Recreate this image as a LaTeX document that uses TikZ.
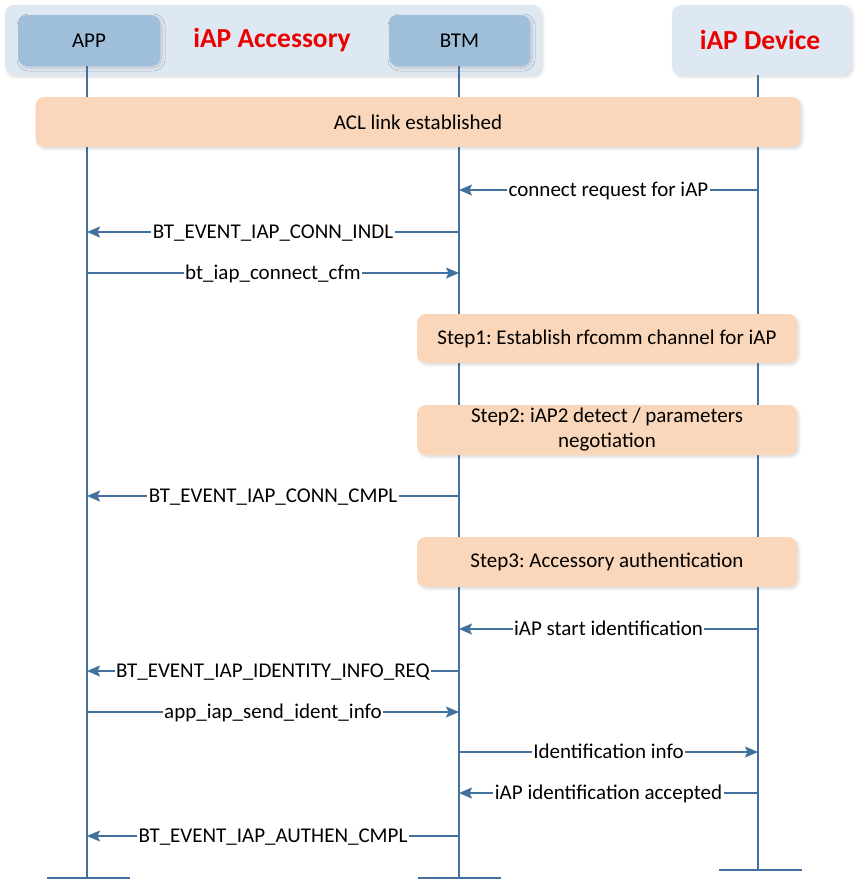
\documentclass[tikz,border=0pt]{standalone}
\usepackage{fontspec}
\setmainfont{Carlito}
\usetikzlibrary{arrows.meta,shadows.blur}
\definecolor{lifeblue}{RGB}{65,113,156}
\definecolor{groupbg}{RGB}{222,232,242}
\definecolor{actorbg}{RGB}{159,190,218}
\definecolor{stepbg}{RGB}{250,215,186}
\definecolor{hdrred}{RGB}{235,0,0}
\begin{document}
\frenchspacing
\begin{tikzpicture}[x=1pt,y=-1pt,
  basefont/.style={font=\fontsize{21}{25}\selectfont},
  softshadow/.style={blur shadow={shadow xshift=2pt,shadow yshift=-2pt,shadow blur radius=3pt,shadow opacity=14}},
  groupbox/.style={fill=groupbg,rounded corners=9pt,softshadow,inner sep=0pt},
  actorbox/.style={fill=actorbg,rounded corners=9pt,softshadow,inner sep=0pt,basefont},
  stepbox/.style={fill=stepbg,rounded corners=9pt,softshadow,inner sep=0pt,basefont,align=center},
  hdrtext/.style={text=hdrred,font=\fontsize{27.5}{30}\selectfont\bfseries},
  lifeline/.style={draw=lifeblue,line width=1.6pt},
  footbar/.style={draw=lifeblue,line width=2pt},
  msg/.style={draw=lifeblue,line width=1.6pt,-{Stealth[length=13pt,width=11pt,inset=2.5pt]}},
  msglabel/.style={fill=white,inner xsep=1.5pt,inner ysep=0pt,text height=13.5pt,text depth=0pt,basefont},
]
\useasboundingbox (0,0) rectangle (859,892);

% header
\node[groupbox,minimum width=536pt,minimum height=70pt] (accgroup) at (273,40) {};
\node[groupbox,minimum width=179pt,minimum height=70pt] (devbox) at (761.5,40) {};
\node[actorbox,minimum width=142pt,minimum height=51pt] (appbox) at (89,40.5) {APP};
\node[actorbox,minimum width=141pt,minimum height=51pt] (btmbox) at (459.5,40.5) {BTM};
\node[hdrtext] (acclabel) at (272,40) {iAP Accessory};
\node[hdrtext] (devlabel) at (760,40) {iAP Device};

% lifelines
\coordinate (appT) at (87,66);
\coordinate (appB) at (87,878);
\coordinate (btmT) at (459,66);
\coordinate (btmB) at (459,878);
\coordinate (devT) at (758,75);
\coordinate (devB) at (758,870);
\draw[lifeline] (appT) -- (appB);
\draw[lifeline] (btmT) -- (btmB);
\draw[lifeline] (devT) -- (devB);
\coordinate (appF1) at (47,878);
\coordinate (appF2) at (130,878);
\coordinate (btmF1) at (418,878);
\coordinate (btmF2) at (501,878);
\coordinate (devF1) at (719,870);
\coordinate (devF2) at (802,870);
\draw[footbar] (appF1) -- (appF2);
\draw[footbar] (btmF1) -- (btmF2);
\draw[footbar] (devF1) -- (devF2);

% boxes over lifelines
\node[stepbox,minimum width=765pt,minimum height=50pt] (acl) at (418,122) {ACL link established};
\node[stepbox,minimum width=380pt,minimum height=49pt] (step1) at (607,338.5) {Step1: Establish rfcomm channel for iAP};
\node[stepbox,minimum width=380pt,minimum height=50pt] (step2) at (607,430) {Step2: iAP2 detect / parameters\\negotiation};
\node[stepbox,minimum width=380pt,minimum height=50pt] (step3) at (607,562) {Step3: Accessory authentication};

% messages
\draw[msg] (devT |- 0,190) -- node[msglabel]{connect request for iAP} (btmT |- 0,190);
\draw[msg] (btmT |- 0,232) -- node[msglabel]{BT\_EVENT\_IAP\_CONN\_INDL} (appT |- 0,232);
\draw[msg] (appT |- 0,273) -- node[msglabel]{bt\_iap\_connect\_cfm} (btmT |- 0,273);
\draw[msg] (btmT |- 0,496) -- node[msglabel]{BT\_EVENT\_IAP\_CONN\_CMPL} (appT |- 0,496);
\draw[msg] (devT |- 0,629) -- node[msglabel]{iAP start identification} (btmT |- 0,629);
\draw[msg] (btmT |- 0,671) -- node[msglabel]{BT\_EVENT\_IAP\_IDENTITY\_INFO\_REQ} (appT |- 0,671);
\draw[msg] (appT |- 0,712) -- node[msglabel]{app\_iap\_send\_ident\_info} (btmT |- 0,712);
\draw[msg] (btmT |- 0,752) -- node[msglabel]{Identification info} (devT |- 0,752);
\draw[msg] (devT |- 0,793) -- node[msglabel]{iAP identification accepted} (btmT |- 0,793);
\draw[msg] (btmT |- 0,836) -- node[msglabel]{BT\_EVENT\_IAP\_AUTHEN\_CMPL} (appT |- 0,836);
\end{tikzpicture}
\end{document}
